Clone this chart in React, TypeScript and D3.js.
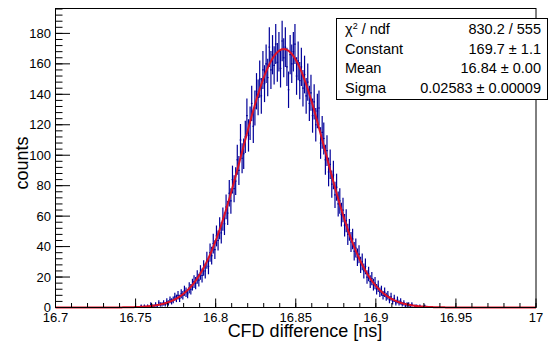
import React from "react";
import * as d3 from "d3";

// ---- data ----
const binLow = 16.745;
const binWidth = 0.001;
const counts = [
  0, 0, 0, 0, 0, 0, 0, 0, 1, 0, 1, 0,
  1, 0, 2, 1, 1, 2, 1, 3, 2, 2,
  3, 2, 4, 3, 5, 4, 5, 7, 6, 8,
  6, 9, 8, 11, 10, 9, 13, 12, 15, 17,
  16, 20, 18, 23, 21, 26, 24, 31, 27, 36,
  34, 42, 38, 47, 44, 52, 49, 58, 55, 66,
  62, 75, 70, 84, 78, 83, 97, 90, 110, 98,
  101, 112, 126, 113, 121, 134, 119, 131, 142, 138,
  150, 139, 156, 147, 160, 151, 171, 156, 166, 159,
  173, 161, 168, 157, 175, 164, 171, 158, 143, 166,
  160, 168, 173, 152, 162, 149, 158, 144, 153, 139,
  148, 134, 141, 126, 135, 120, 129, 131, 108, 115,
  111, 97, 103, 89, 94, 81, 87, 74, 79, 68,
  70, 61, 64, 54, 57, 48, 51, 43, 45, 37,
  39, 33, 35, 28, 30, 24, 27, 20, 22, 17,
  19, 15, 16, 12, 14, 10, 11, 8, 10, 7,
  8, 5, 7, 4, 6, 3, 5, 3, 4, 2,
  3, 1, 2, 2, 1, 2, 0, 1, 1, 0,
  1, 0, 0, 1, 0, 0, 0, 0,
];
const xDomain = [16.7, 17];
const yMax = 196.35;
const xMajorTicks = [16.7, 16.75, 16.8, 16.85, 16.9, 16.95, 17];
const xTickLabels = ["16.7", "16.75", "16.8", "16.85", "16.9", "16.95", "17"];
const yMajorTicks = [0, 20, 40, 60, 80, 100, 120, 140, 160, 180];
const yTickLabels = ["0", "20", "40", "60", "80", "100", "120", "140", "160", "180"];
const fitConstant = 169.7;
const fitMean = 16.8425;
const fitSigma = 0.02583;
const statsLabels = ["χ2 / ndf", "Constant", "Mean", "Sigma"];
const statsValues = ["830.2 / 555", "169.7 ± 1.1", "16.84 ± 0.00", "0.02583 ± 0.00009"];
const xTitle = "CFD difference [ns]";
const yTitle = "counts";

// ---- layout ----
const W = 554, H = 344;
const L = 55.5, R = 536, T = 8.5, B = 307.5;
const FONT = "'Liberation Sans', Arial, Helvetica, sans-serif";
const BLUE = "#000099";
const RED = "#dd1126";

export default function App() {
  const x = d3.scaleLinear().domain(xDomain).range([L, R]);
  const y = d3.scaleLinear().domain([0, yMax]).range([B, T]);

  const xMinor = d3.range(0, 31).map((i) => 16.7 + i * 0.01);
  const yMinor = d3.range(0, 50).map((i) => i * 4).filter((v) => v <= yMax);

  const fitPts = d3.range(0, 601).map((i) => {
    const xv = xDomain[0] + (i / 600) * (xDomain[1] - xDomain[0]);
    const z = (xv - fitMean) / fitSigma;
    return [xv, fitConstant * Math.exp(-0.5 * z * z)] as [number, number];
  });
  const line = d3
    .line<[number, number]>()
    .x((d) => x(d[0]))
    .y((d) => y(d[1]));

  const bins = counts.map((c, i) => ({
    lo: binLow + i * binWidth,
    hi: binLow + (i + 1) * binWidth,
    c,
  }));

  return (
    <svg
      width={W}
      height={H}
      style={{ position: "absolute", left: 0, top: 0, background: "#fff" }}
      fontFamily={FONT}
    >
      <rect x={0} y={0} width={W} height={H} fill="#fff" />
      {/* histogram with error bars */}
      <g stroke={BLUE} strokeWidth={1.2}>
        {bins
          .filter((b) => b.c > 0)
          .map((b, i) => {
            const cx = x((b.lo + b.hi) / 2);
            const e = Math.sqrt(b.c);
            return (
              <g key={i}>
                <line x1={cx} x2={cx} y1={y(b.c - e)} y2={y(Math.min(b.c + e, yMax))} />
                <line x1={x(b.lo)} x2={x(b.hi)} y1={y(b.c)} y2={y(b.c)} />
              </g>
            );
          })}
      </g>
      {/* fit */}
      <path d={line(fitPts) || ""} fill="none" stroke={RED} strokeWidth={2} />
      {/* frame */}
      <rect x={L} y={T} width={R - L} height={B - T} fill="none" stroke="#000" strokeWidth={1} />
      {/* x ticks */}
      <g stroke="#000" strokeWidth={1}>
        {xMinor.map((v, i) => (
          <line key={"xm" + i} x1={x(v)} x2={x(v)} y1={B} y2={B - 4.5} />
        ))}
        {xMajorTicks.map((v, i) => (
          <line key={"xM" + i} x1={x(v)} x2={x(v)} y1={B} y2={B - 9} />
        ))}
        {yMinor.map((v, i) => (
          <line key={"ym" + i} x1={L} x2={L + 7} y1={y(v)} y2={y(v)} />
        ))}
        {yMajorTicks.map((v, i) => (
          <line key={"yM" + i} x1={L} x2={L + 14.5} y1={y(v)} y2={y(v)} />
        ))}
      </g>
      {/* tick labels */}
      <g fontSize={13} fill="#000">
        {xMajorTicks.map((v, i) => (
          <text key={"xl" + i} x={x(v)} y={322} textAnchor="middle">
            {xTickLabels[i]}
          </text>
        ))}
        {yMajorTicks.map((v, i) => (
          <text key={"yl" + i} x={51} y={y(v) + 4.5} textAnchor="end">
            {yTickLabels[i]}
          </text>
        ))}
      </g>
      {/* axis titles */}
      <text x={305} y={337} fontSize={18} textAnchor="middle" fill="#000">
        {xTitle}
      </text>
      <text
        transform={`translate(28, 163) rotate(-90)`}
        fontSize={18}
        textAnchor="middle"
        fill="#000"
      >
        {yTitle}
      </text>
      {/* stats box */}
      <rect x={336.5} y={18.5} width={211} height={81} fill="#fff" stroke="#000" strokeWidth={1} />
      <g fontSize={14.5} fill="#000">
        {statsLabels.map((s, i) => (
          <text key={"sl" + i} x={345} y={34 + i * 19.5}>
            {i === 0 ? (
              <>
                χ<tspan dy={-5} fontSize={9}>2</tspan>
                <tspan dy={5}> / ndf</tspan>
              </>
            ) : (
              s
            )}
          </text>
        ))}
        {statsValues.map((s, i) => (
          <text key={"sv" + i} x={541} y={34 + i * 19.5} textAnchor="end">
            {s}
          </text>
        ))}
      </g>
    </svg>
  );
}
